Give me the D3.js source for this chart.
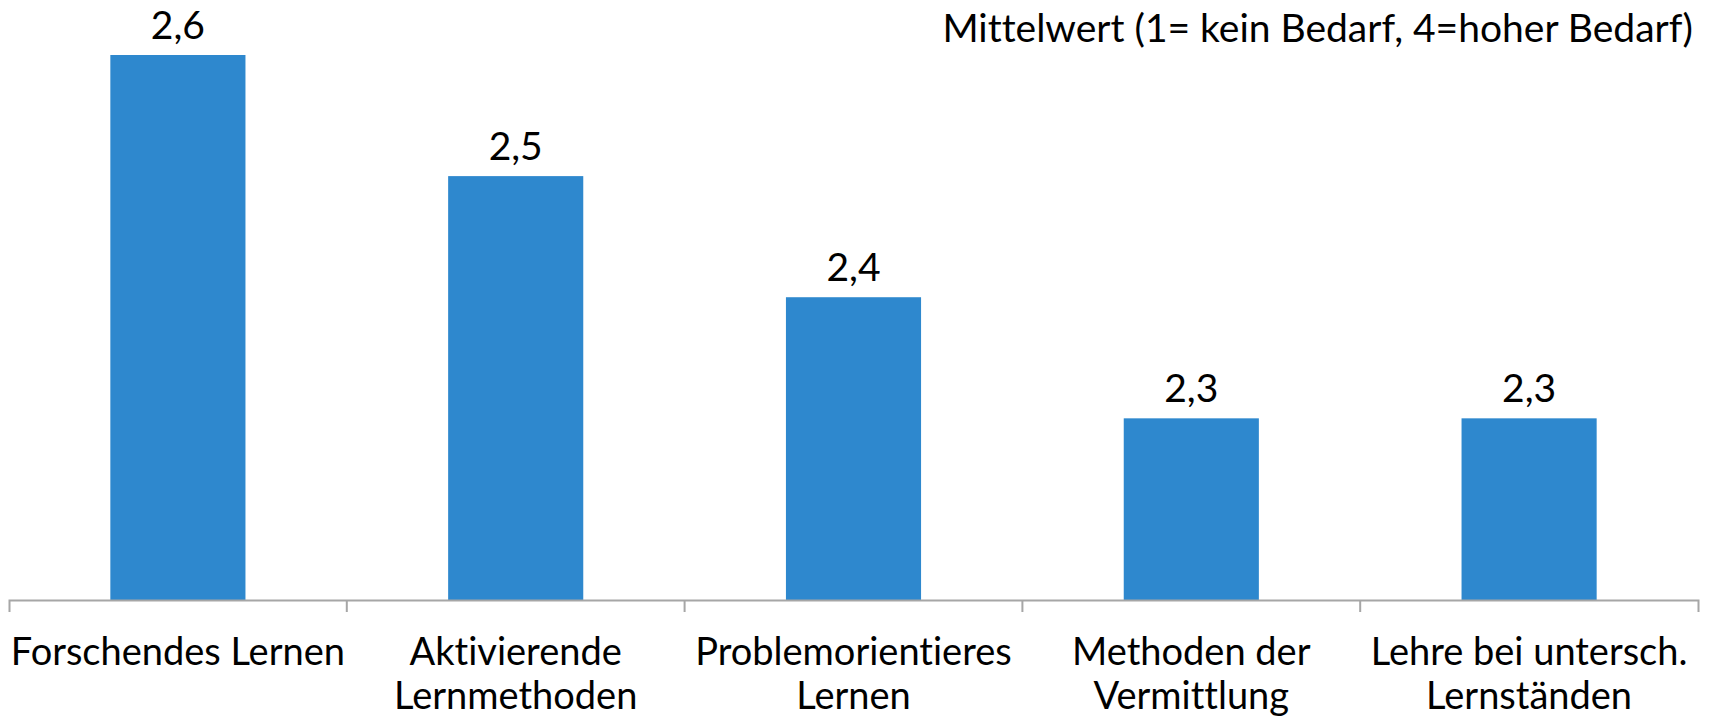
<!DOCTYPE html>
<html>
<head>
<meta charset="utf-8">
<script src="https://cdn.jsdelivr.net/npm/d3@7"></script>
<style>
  body { margin: 0; background: #fff; }
  text { font-family: Lato, "Open Sans", sans-serif; fill: #000; font-variant-ligatures: none; }
</style>
</head>
<body>
<svg id="chart"></svg>
<script>
// categories and values (mean, 1 = kein Bedarf, 4 = hoher Bedarf)
const categories = ["Forschendes Lernen", "Aktivierende Lernmethoden", "Problemorientieres Lernen",
                    "Methoden der Vermittlung", "Lehre bei untersch. Lernständen"];
const labelLines = [["Forschendes Lernen"], ["Aktivierende", "Lernmethoden"], ["Problemorientieres", "Lernen"],
                    ["Methoden der", "Vermittlung"], ["Lehre bei untersch.", "Lernständen"]];
const values = [2.6, 2.5, 2.4, 2.3, 2.3];
const valueLabels = ["2,6", "2,5", "2,4", "2,3", "2,3"];
const yDomain = [2.15, 2.6];

let canvas = {
  "width": 1723,
  "height": 719,
  "marginLeft": 9,
  "marginRight": 25,
  "marginTop": 55,
  "axisY": 600
};

let svg = d3.select("#chart")
  .attr("width", canvas.width)
  .attr("height", canvas.height);

let xScale = d3.scaleBand()
  .domain(categories)
  .range([canvas.marginLeft, canvas.width - canvas.marginRight])
  .paddingInner(0.6)
  .paddingOuter(0.3);

let yScale = d3.scaleLinear()
  .domain(yDomain)
  .range([canvas.axisY, canvas.marginTop]);

// Bars
svg.selectAll(".bar")
  .data(values)
  .join("rect")
  .attr("class", "bar")
  .attr("x", (d, i) => xScale(categories[i]))
  .attr("width", xScale.bandwidth())
  .attr("y", d => yScale(d))
  .attr("height", d => canvas.axisY - yScale(d))
  .attr("fill", "#2e88ce");

// Value labels
svg.selectAll(".val")
  .data(values)
  .join("text")
  .attr("class", "val")
  .attr("x", (d, i) => xScale(categories[i]) + xScale.bandwidth() / 2)
  .attr("y", d => yScale(d) - 16)
  .attr("text-anchor", "middle")
  .attr("font-size", "39px")
  .text((d, i) => valueLabels[i]);

// X axis (domain line + outer ticks)
let gx = svg.append("g")
  .attr("transform", `translate(0, ${canvas.axisY})`)
  .call(d3.axisBottom(xScale).tickSize(0).tickSizeOuter(12).tickFormat(""));

gx.select(".domain").attr("stroke", "#a6a6a6").attr("stroke-width", 2);

// boundary ticks between categories
let gap = (xScale.step() - xScale.bandwidth()) / 2;
gx.selectAll(".sep")
  .data(categories.slice(1))
  .join("line")
  .attr("class", "sep")
  .attr("x1", d => xScale(d) - gap)
  .attr("x2", d => xScale(d) - gap)
  .attr("y1", 0)
  .attr("y2", 12)
  .attr("stroke", "#a6a6a6")
  .attr("stroke-width", 2);

// Category labels
let labels = svg.selectAll(".cat")
  .data(categories)
  .join("text")
  .attr("class", "cat")
  .attr("text-anchor", "middle")
  .attr("font-size", "38px")
  .attr("x", d => xScale(d) + xScale.bandwidth() / 2)
  .attr("y", canvas.axisY + 65);

labels.selectAll("tspan")
  .data((d, i) => labelLines[i])
  .join("tspan")
  .attr("x", function() { return d3.select(this.parentNode).attr("x"); })
  .attr("dy", (d, i) => i === 0 ? 0 : 44)
  .text(d => d);

// Title (top right)
svg.append("text")
  .attr("x", 1693)
  .attr("y", 42)
  .attr("text-anchor", "end")
  .attr("font-size", "39px")
  .text("Mittelwert (1= kein Bedarf, 4=hoher Bedarf)");
</script>
</body>
</html>
